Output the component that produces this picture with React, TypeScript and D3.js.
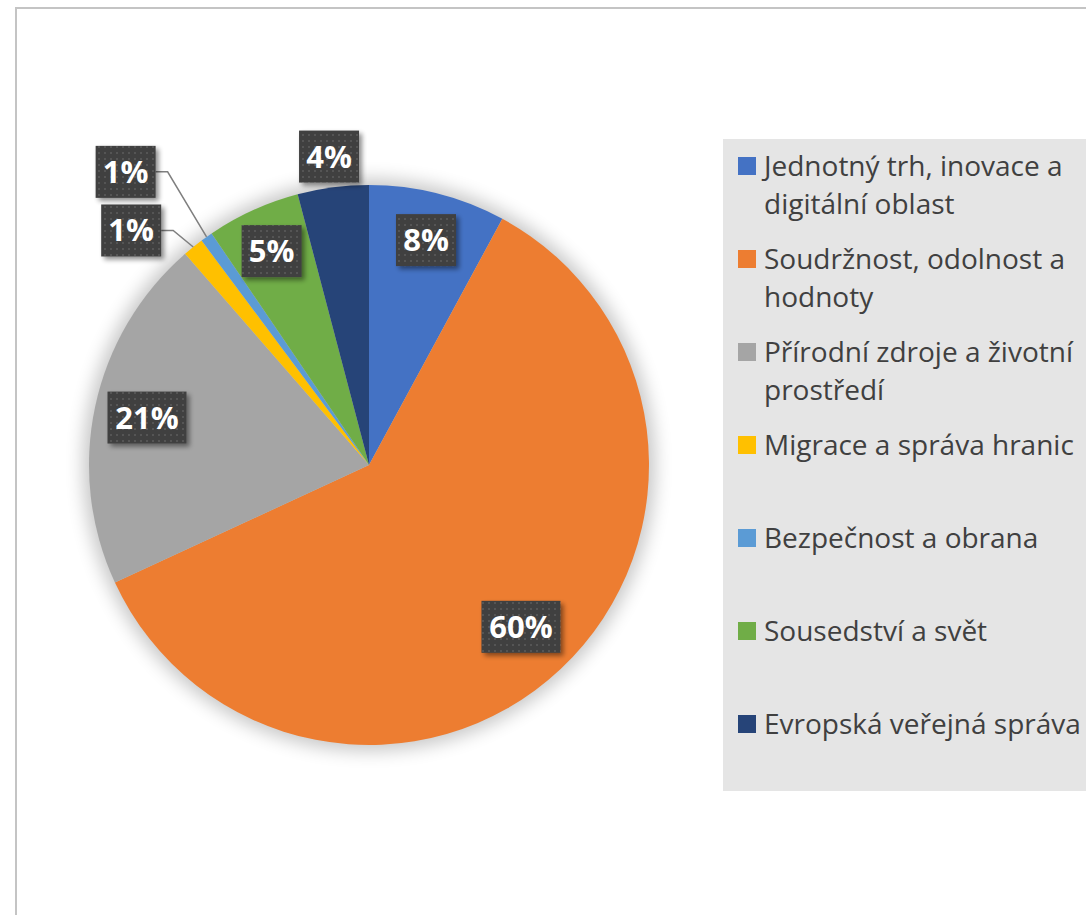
import React from "react";
import * as d3 from "d3";

// ---- data ----
const categories = [
  "Jednotný trh, inovace a digitální oblast",
  "Soudržnost, odolnost a hodnoty",
  "Přírodní zdroje a životní prostředí",
  "Migrace a správa hranic",
  "Bezpečnost a obrana",
  "Sousedství a svět",
  "Evropská veřejná správa",
];
const values = [7.9, 60.2, 20.5, 1.2, 0.7, 5.4, 4.1];
const colors = ["#4472C4", "#ED7D31", "#A5A5A5", "#FFC000", "#5B9BD5", "#70AD47", "#264478"];
const legendLines = [
  ["Jednotný trh, inovace a", "digitální oblast"],
  ["Soudržnost, odolnost a", "hodnoty"],
  ["Přírodní zdroje a životní", "prostředí"],
  ["Migrace a správa hranic"],
  ["Bezpečnost a obrana"],
  ["Sousedství a svět"],
  ["Evropská veřejná správa"],
];

// ---- layout ----
const W = 1086;
const H = 915;
const CX = 369;
const CY = 465;
const R = 280;
// label placement: radius from centre, optional angle override (deg), leader line
const labelRadius = [232, 222, 227, 334, 381, 235, 311];
const labelAngle: (number | null)[] = [null, null, null, 314.6, 320.3, null, null];
const hasLeader = [false, false, false, true, true, false, false];

export default function App() {
  const pie = d3.pie<number>().sort(null).value((d) => d);
  const arcs = pie(values);
  const arc = d3.arc<d3.PieArcDatum<number>>().innerRadius(0).outerRadius(R);
  const fmt = (v: number) => `${Math.round(v)}%`;

  const legendY = d3.scaleLinear().domain([0, 6]).range([166, 724]);

  const polar = (angDeg: number, r: number) => {
    const a = (angDeg * Math.PI) / 180;
    return [CX + r * Math.sin(a), CY - r * Math.cos(a)];
  };

  return (
    <svg
      width={W}
      height={H}
      style={{ position: "absolute", left: 0, top: 0, background: "#fff" }}
      fontFamily="'Open Sans', 'Noto Sans', sans-serif"
    >
      <defs>
        <filter id="pieShadow" x="-30%" y="-30%" width="160%" height="160%">
          <feGaussianBlur stdDeviation="9" />
        </filter>
        <filter id="boxShadow" x="-30%" y="-30%" width="160%" height="160%">
          <feGaussianBlur in="SourceAlpha" stdDeviation="2.5" />
          <feOffset dx="3" dy="3" result="b" />
          <feComponentTransfer>
            <feFuncA type="linear" slope="0.45" />
          </feComponentTransfer>
          <feMerge>
            <feMergeNode />
            <feMergeNode in="SourceGraphic" />
          </feMerge>
        </filter>
        <pattern id="dots" width="6" height="6" patternUnits="userSpaceOnUse">
          <rect width="6" height="6" fill="#404040" />
          <rect x="2" y="2" width="2" height="2" fill="#555555" />
        </pattern>
      </defs>

      {/* chart border */}
      <rect x={16} y={8} width={W} height={H} fill="#fff" stroke="#C4C4C4" strokeWidth={2} />

      {/* pie shadow */}
      <circle cx={CX} cy={CY} r={R + 6} fill="#000" opacity={0.22} filter="url(#pieShadow)" />

      <g transform={`translate(${CX},${CY})`}>
        {arcs.map((a, i) => (
          <path key={i} d={arc(a) || ""} fill={colors[i]} />
        ))}
      </g>

      {/* labels */}
      {arcs.map((a, i) => {
        const mid = ((a.startAngle + a.endAngle) / 2) * (180 / Math.PI);
        const ang = labelAngle[i] ?? mid;
        const [lx, ly] = polar(ang, labelRadius[i]);
        const txt = fmt(values[i]);
        const bw = 22 + 19 * txt.length;
        const bh = 52;
        let leader = null;
        if (hasLeader[i]) {
          const [ex, ey] = polar(mid, R);
          const sx = lx + bw / 2;
          leader = (
            <polyline
              points={`${sx},${ly} ${sx + 12},${ly} ${ex},${ey}`}
              fill="none"
              stroke="#7F7F7F"
              strokeWidth={1.5}
            />
          );
        }
        return (
          <g key={i}>
            {leader}
            <rect
              x={lx - bw / 2}
              y={ly - bh / 2}
              width={bw}
              height={bh}
              fill="url(#dots)"
              filter="url(#boxShadow)"
            />
            <text
              x={lx}
              y={ly + 11}
              textAnchor="middle"
              fill="#fff"
              fontWeight={700}
              fontSize={31}
            >
              {txt}
            </text>
          </g>
        );
      })}

      {/* legend */}
      <rect x={723} y={139} width={W - 723} height={652} fill="#E5E5E5" />
      {categories.map((c, i) => {
        const y0 = legendY(i);
        return (
          <g key={c}>
            <rect x={738} y={y0 - 9} width={18} height={18} fill={colors[i]} />
            {legendLines[i].map((ln, j) => (
              <text key={j} x={764} y={y0 + 10 + j * 37.5} fontSize={28} fill="#404040">
                {ln}
              </text>
            ))}
          </g>
        );
      })}
    </svg>
  );
}
